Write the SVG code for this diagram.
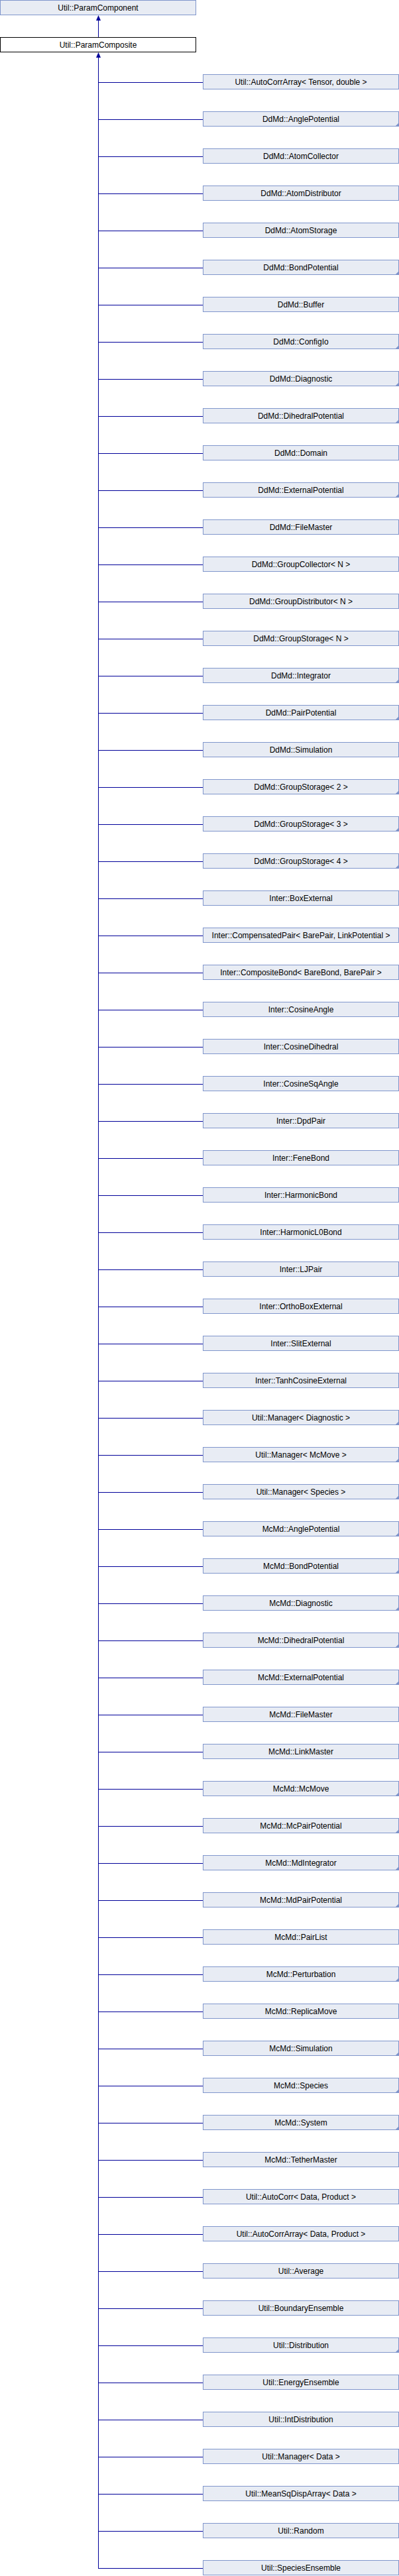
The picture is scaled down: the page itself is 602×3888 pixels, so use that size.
<svg xmlns="http://www.w3.org/2000/svg" width="602" height="3888" viewBox="0 0 602 3888">
<style>
.b{fill:#E8ECF4;stroke:#8096CC;stroke-width:1}
.s{fill:#FFFFFF;stroke:#000000;stroke-width:1}
.t{font-family:"Liberation Sans",Arial,sans-serif;font-size:12px;fill:#000000;text-anchor:middle}
.c{fill:#7C92CA;stroke:none}
.l{stroke:#000099;stroke-width:1;fill:none}
.a{fill:#000099;stroke:none}
</style>
<defs>
<polygon id="corner" class="c" points="596,135 602,135 602,129"/>
</defs>
<g id="connectors">
<line class="l" x1="148.5" y1="24" x2="148.5" y2="56"/>
<polygon class="a" points="148.5,23 145,31 152,31"/>
<line class="l" x1="148.5" y1="80" x2="148.5" y2="3876.5"/>
<polygon class="a" points="148.5,79 145,87 152,87"/>
<path class="l" d="M148,124.5H306M148,180.5H306M148,236.5H306M148,292.5H306M148,348.5H306M148,404.5H306M148,460.5H306M148,516.5H306M148,572.5H306M148,628.5H306M148,684.5H306M148,740.5H306M148,796.5H306M148,852.5H306M148,908.5H306M148,964.5H306M148,1020.5H306M148,1076.5H306M148,1132.5H306M148,1188.5H306M148,1244.5H306M148,1300.5H306M148,1356.5H306M148,1412.5H306M148,1468.5H306M148,1524.5H306M148,1580.5H306M148,1636.5H306M148,1692.5H306M148,1748.5H306M148,1804.5H306M148,1860.5H306M148,1916.5H306M148,1972.5H306M148,2028.5H306M148,2084.5H306M148,2140.5H306M148,2196.5H306M148,2252.5H306M148,2308.5H306M148,2364.5H306M148,2420.5H306M148,2476.5H306M148,2532.5H306M148,2588.5H306M148,2644.5H306M148,2700.5H306M148,2756.5H306M148,2812.5H306M148,2868.5H306M148,2924.5H306M148,2980.5H306M148,3036.5H306M148,3092.5H306M148,3148.5H306M148,3204.5H306M148,3260.5H306M148,3316.5H306M148,3372.5H306M148,3428.5H306M148,3484.5H306M148,3540.5H306M148,3596.5H306M148,3652.5H306M148,3708.5H306M148,3764.5H306M148,3820.5H306M148,3876.5H306"/>
</g>
<g id="n_paramcomponent"><rect class="b" x="0.5" y="0.5" width="295" height="22"/><text class="t" x="148" y="16">Util::ParamComponent</text></g>
<g id="n_paramcomposite"><rect class="s" x="0.5" y="56.5" width="295" height="22"/><text class="t" x="148" y="72">Util::ParamComposite</text></g>
<g id="n01"><rect class="b" x="306.5" y="112.5" width="295" height="22"/><text class="t" x="454" y="128">Util::AutoCorrArray&lt; Tensor, double &gt;</text></g>
<g id="n02" transform="translate(0,56)"><rect class="b" x="306.5" y="112.5" width="295" height="22"/><text class="t" x="454" y="128">DdMd::AnglePotential</text><use href="#corner"/></g>
<g id="n03" transform="translate(0,112)"><rect class="b" x="306.5" y="112.5" width="295" height="22"/><text class="t" x="454" y="128">DdMd::AtomCollector</text></g>
<g id="n04" transform="translate(0,168)"><rect class="b" x="306.5" y="112.5" width="295" height="22"/><text class="t" x="454" y="128">DdMd::AtomDistributor</text></g>
<g id="n05" transform="translate(0,224)"><rect class="b" x="306.5" y="112.5" width="295" height="22"/><text class="t" x="454" y="128">DdMd::AtomStorage</text></g>
<g id="n06" transform="translate(0,280)"><rect class="b" x="306.5" y="112.5" width="295" height="22"/><text class="t" x="454" y="128">DdMd::BondPotential</text><use href="#corner"/></g>
<g id="n07" transform="translate(0,336)"><rect class="b" x="306.5" y="112.5" width="295" height="22"/><text class="t" x="454" y="128">DdMd::Buffer</text></g>
<g id="n08" transform="translate(0,392)"><rect class="b" x="306.5" y="112.5" width="295" height="22"/><text class="t" x="454" y="128">DdMd::ConfigIo</text><use href="#corner"/></g>
<g id="n09" transform="translate(0,448)"><rect class="b" x="306.5" y="112.5" width="295" height="22"/><text class="t" x="454" y="128">DdMd::Diagnostic</text><use href="#corner"/></g>
<g id="n10" transform="translate(0,504)"><rect class="b" x="306.5" y="112.5" width="295" height="22"/><text class="t" x="454" y="128">DdMd::DihedralPotential</text><use href="#corner"/></g>
<g id="n11" transform="translate(0,560)"><rect class="b" x="306.5" y="112.5" width="295" height="22"/><text class="t" x="454" y="128">DdMd::Domain</text></g>
<g id="n12" transform="translate(0,616)"><rect class="b" x="306.5" y="112.5" width="295" height="22"/><text class="t" x="454" y="128">DdMd::ExternalPotential</text><use href="#corner"/></g>
<g id="n13" transform="translate(0,672)"><rect class="b" x="306.5" y="112.5" width="295" height="22"/><text class="t" x="454" y="128">DdMd::FileMaster</text></g>
<g id="n14" transform="translate(0,728)"><rect class="b" x="306.5" y="112.5" width="295" height="22"/><text class="t" x="454" y="128">DdMd::GroupCollector&lt; N &gt;</text></g>
<g id="n15" transform="translate(0,784)"><rect class="b" x="306.5" y="112.5" width="295" height="22"/><text class="t" x="454" y="128">DdMd::GroupDistributor&lt; N &gt;</text></g>
<g id="n16" transform="translate(0,840)"><rect class="b" x="306.5" y="112.5" width="295" height="22"/><text class="t" x="454" y="128">DdMd::GroupStorage&lt; N &gt;</text></g>
<g id="n17" transform="translate(0,896)"><rect class="b" x="306.5" y="112.5" width="295" height="22"/><text class="t" x="454" y="128">DdMd::Integrator</text><use href="#corner"/></g>
<g id="n18" transform="translate(0,952)"><rect class="b" x="306.5" y="112.5" width="295" height="22"/><text class="t" x="454" y="128">DdMd::PairPotential</text><use href="#corner"/></g>
<g id="n19" transform="translate(0,1008)"><rect class="b" x="306.5" y="112.5" width="295" height="22"/><text class="t" x="454" y="128">DdMd::Simulation</text></g>
<g id="n20" transform="translate(0,1064)"><rect class="b" x="306.5" y="112.5" width="295" height="22"/><text class="t" x="454" y="128">DdMd::GroupStorage&lt; 2 &gt;</text><use href="#corner"/></g>
<g id="n21" transform="translate(0,1120)"><rect class="b" x="306.5" y="112.5" width="295" height="22"/><text class="t" x="454" y="128">DdMd::GroupStorage&lt; 3 &gt;</text><use href="#corner"/></g>
<g id="n22" transform="translate(0,1176)"><rect class="b" x="306.5" y="112.5" width="295" height="22"/><text class="t" x="454" y="128">DdMd::GroupStorage&lt; 4 &gt;</text><use href="#corner"/></g>
<g id="n23" transform="translate(0,1232)"><rect class="b" x="306.5" y="112.5" width="295" height="22"/><text class="t" x="454" y="128">Inter::BoxExternal</text></g>
<g id="n24" transform="translate(0,1288)"><rect class="b" x="306.5" y="112.5" width="295" height="22"/><text class="t" x="454" y="128">Inter::CompensatedPair&lt; BarePair, LinkPotential &gt;</text></g>
<g id="n25" transform="translate(0,1344)"><rect class="b" x="306.5" y="112.5" width="295" height="22"/><text class="t" x="454" y="128">Inter::CompositeBond&lt; BareBond, BarePair &gt;</text></g>
<g id="n26" transform="translate(0,1400)"><rect class="b" x="306.5" y="112.5" width="295" height="22"/><text class="t" x="454" y="128">Inter::CosineAngle</text></g>
<g id="n27" transform="translate(0,1456)"><rect class="b" x="306.5" y="112.5" width="295" height="22"/><text class="t" x="454" y="128">Inter::CosineDihedral</text></g>
<g id="n28" transform="translate(0,1512)"><rect class="b" x="306.5" y="112.5" width="295" height="22"/><text class="t" x="454" y="128">Inter::CosineSqAngle</text></g>
<g id="n29" transform="translate(0,1568)"><rect class="b" x="306.5" y="112.5" width="295" height="22"/><text class="t" x="454" y="128">Inter::DpdPair</text></g>
<g id="n30" transform="translate(0,1624)"><rect class="b" x="306.5" y="112.5" width="295" height="22"/><text class="t" x="454" y="128">Inter::FeneBond</text></g>
<g id="n31" transform="translate(0,1680)"><rect class="b" x="306.5" y="112.5" width="295" height="22"/><text class="t" x="454" y="128">Inter::HarmonicBond</text></g>
<g id="n32" transform="translate(0,1736)"><rect class="b" x="306.5" y="112.5" width="295" height="22"/><text class="t" x="454" y="128">Inter::HarmonicL0Bond</text></g>
<g id="n33" transform="translate(0,1792)"><rect class="b" x="306.5" y="112.5" width="295" height="22"/><text class="t" x="454" y="128">Inter::LJPair</text></g>
<g id="n34" transform="translate(0,1848)"><rect class="b" x="306.5" y="112.5" width="295" height="22"/><text class="t" x="454" y="128">Inter::OrthoBoxExternal</text></g>
<g id="n35" transform="translate(0,1904)"><rect class="b" x="306.5" y="112.5" width="295" height="22"/><text class="t" x="454" y="128">Inter::SlitExternal</text></g>
<g id="n36" transform="translate(0,1960)"><rect class="b" x="306.5" y="112.5" width="295" height="22"/><text class="t" x="454" y="128">Inter::TanhCosineExternal</text></g>
<g id="n37" transform="translate(0,2016)"><rect class="b" x="306.5" y="112.5" width="295" height="22"/><text class="t" x="454" y="128">Util::Manager&lt; Diagnostic &gt;</text><use href="#corner"/></g>
<g id="n38" transform="translate(0,2072)"><rect class="b" x="306.5" y="112.5" width="295" height="22"/><text class="t" x="454" y="128">Util::Manager&lt; McMove &gt;</text><use href="#corner"/></g>
<g id="n39" transform="translate(0,2128)"><rect class="b" x="306.5" y="112.5" width="295" height="22"/><text class="t" x="454" y="128">Util::Manager&lt; Species &gt;</text><use href="#corner"/></g>
<g id="n40" transform="translate(0,2184)"><rect class="b" x="306.5" y="112.5" width="295" height="22"/><text class="t" x="454" y="128">McMd::AnglePotential</text><use href="#corner"/></g>
<g id="n41" transform="translate(0,2240)"><rect class="b" x="306.5" y="112.5" width="295" height="22"/><text class="t" x="454" y="128">McMd::BondPotential</text><use href="#corner"/></g>
<g id="n42" transform="translate(0,2296)"><rect class="b" x="306.5" y="112.5" width="295" height="22"/><text class="t" x="454" y="128">McMd::Diagnostic</text><use href="#corner"/></g>
<g id="n43" transform="translate(0,2352)"><rect class="b" x="306.5" y="112.5" width="295" height="22"/><text class="t" x="454" y="128">McMd::DihedralPotential</text><use href="#corner"/></g>
<g id="n44" transform="translate(0,2408)"><rect class="b" x="306.5" y="112.5" width="295" height="22"/><text class="t" x="454" y="128">McMd::ExternalPotential</text><use href="#corner"/></g>
<g id="n45" transform="translate(0,2464)"><rect class="b" x="306.5" y="112.5" width="295" height="22"/><text class="t" x="454" y="128">McMd::FileMaster</text></g>
<g id="n46" transform="translate(0,2520)"><rect class="b" x="306.5" y="112.5" width="295" height="22"/><text class="t" x="454" y="128">McMd::LinkMaster</text></g>
<g id="n47" transform="translate(0,2576)"><rect class="b" x="306.5" y="112.5" width="295" height="22"/><text class="t" x="454" y="128">McMd::McMove</text><use href="#corner"/></g>
<g id="n48" transform="translate(0,2632)"><rect class="b" x="306.5" y="112.5" width="295" height="22"/><text class="t" x="454" y="128">McMd::McPairPotential</text><use href="#corner"/></g>
<g id="n49" transform="translate(0,2688)"><rect class="b" x="306.5" y="112.5" width="295" height="22"/><text class="t" x="454" y="128">McMd::MdIntegrator</text><use href="#corner"/></g>
<g id="n50" transform="translate(0,2744)"><rect class="b" x="306.5" y="112.5" width="295" height="22"/><text class="t" x="454" y="128">McMd::MdPairPotential</text><use href="#corner"/></g>
<g id="n51" transform="translate(0,2800)"><rect class="b" x="306.5" y="112.5" width="295" height="22"/><text class="t" x="454" y="128">McMd::PairList</text></g>
<g id="n52" transform="translate(0,2856)"><rect class="b" x="306.5" y="112.5" width="295" height="22"/><text class="t" x="454" y="128">McMd::Perturbation</text><use href="#corner"/></g>
<g id="n53" transform="translate(0,2912)"><rect class="b" x="306.5" y="112.5" width="295" height="22"/><text class="t" x="454" y="128">McMd::ReplicaMove</text></g>
<g id="n54" transform="translate(0,2968)"><rect class="b" x="306.5" y="112.5" width="295" height="22"/><text class="t" x="454" y="128">McMd::Simulation</text><use href="#corner"/></g>
<g id="n55" transform="translate(0,3024)"><rect class="b" x="306.5" y="112.5" width="295" height="22"/><text class="t" x="454" y="128">McMd::Species</text><use href="#corner"/></g>
<g id="n56" transform="translate(0,3080)"><rect class="b" x="306.5" y="112.5" width="295" height="22"/><text class="t" x="454" y="128">McMd::System</text><use href="#corner"/></g>
<g id="n57" transform="translate(0,3136)"><rect class="b" x="306.5" y="112.5" width="295" height="22"/><text class="t" x="454" y="128">McMd::TetherMaster</text></g>
<g id="n58" transform="translate(0,3192)"><rect class="b" x="306.5" y="112.5" width="295" height="22"/><text class="t" x="454" y="128">Util::AutoCorr&lt; Data, Product &gt;</text></g>
<g id="n59" transform="translate(0,3248)"><rect class="b" x="306.5" y="112.5" width="295" height="22"/><text class="t" x="454" y="128">Util::AutoCorrArray&lt; Data, Product &gt;</text></g>
<g id="n60" transform="translate(0,3304)"><rect class="b" x="306.5" y="112.5" width="295" height="22"/><text class="t" x="454" y="128">Util::Average</text></g>
<g id="n61" transform="translate(0,3360)"><rect class="b" x="306.5" y="112.5" width="295" height="22"/><text class="t" x="454" y="128">Util::BoundaryEnsemble</text></g>
<g id="n62" transform="translate(0,3416)"><rect class="b" x="306.5" y="112.5" width="295" height="22"/><text class="t" x="454" y="128">Util::Distribution</text><use href="#corner"/></g>
<g id="n63" transform="translate(0,3472)"><rect class="b" x="306.5" y="112.5" width="295" height="22"/><text class="t" x="454" y="128">Util::EnergyEnsemble</text></g>
<g id="n64" transform="translate(0,3528)"><rect class="b" x="306.5" y="112.5" width="295" height="22"/><text class="t" x="454" y="128">Util::IntDistribution</text></g>
<g id="n65" transform="translate(0,3584)"><rect class="b" x="306.5" y="112.5" width="295" height="22"/><text class="t" x="454" y="128">Util::Manager&lt; Data &gt;</text></g>
<g id="n66" transform="translate(0,3640)"><rect class="b" x="306.5" y="112.5" width="295" height="22"/><text class="t" x="454" y="128">Util::MeanSqDispArray&lt; Data &gt;</text></g>
<g id="n67" transform="translate(0,3696)"><rect class="b" x="306.5" y="112.5" width="295" height="22"/><text class="t" x="454" y="128">Util::Random</text></g>
<g id="n68" transform="translate(0,3752)"><rect class="b" x="306.5" y="112.5" width="295" height="22"/><text class="t" x="454" y="128">Util::SpeciesEnsemble</text></g>
</svg>
